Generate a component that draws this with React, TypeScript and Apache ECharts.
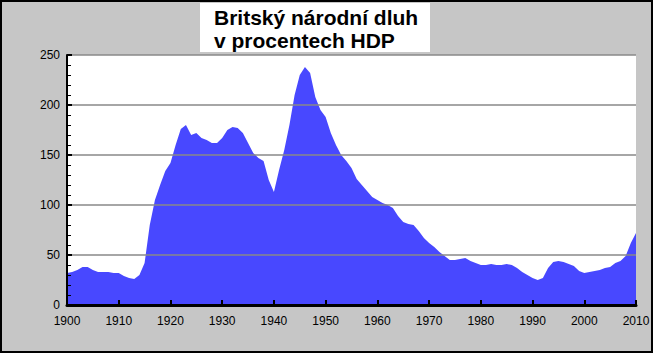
import React, { useEffect, useRef } from "react";
import * as echarts from "echarts";

const titleLines = ["Britský národní dluh", "v procentech HDP"];
const startYear = 1900;
const debtValues = [
  32, 33, 35, 38, 38, 35, 33, 33, 33, 32, // 1900-1909
  32, 29, 27, 26, 30, 42, 80, 105, 120, 134, // 1910-1919
  142, 160, 176, 180, 170, 172, 167, 165, 162, 162, // 1920-1929
  167, 175, 178, 177, 172, 162, 152, 147, 144, 125, // 1930-1939
  113, 135, 155, 180, 210, 230, 238, 232, 208, 195, // 1940-1949
  188, 172, 160, 150, 144, 137, 126, 120, 114, 108, // 1950-1959
  105, 102, 100, 97, 89, 83, 81, 80, 74, 67, // 1960-1969
  62, 58, 53, 49, 45, 45, 46, 47, 44, 42, // 1970-1979
  40, 40, 41, 40, 40, 41, 40, 37, 33, 30, // 1980-1989
  27, 25, 27, 37, 43, 44, 43, 41, 39, 34, // 1990-1999
  32, 33, 34, 35, 37, 38, 42, 44, 49, 62, // 2000-2009
  72, // 2010
];
const yTicks = [0, 50, 100, 150, 200, 250];
const xTicks = [1900, 1910, 1920, 1930, 1940, 1950, 1960, 1970, 1980, 1990, 2000, 2010];

export default function App() {
  const ref = useRef<HTMLDivElement>(null);
  useEffect(() => {
    document.body.style.margin = "0";
    const chart = echarts.init(ref.current!, null, { renderer: "svg" });
    const data = debtValues.map((v, i) => [startYear + i, v]);
    chart.setOption({
      animation: false,
      backgroundColor: "#c6c6c6",
      grid: { left: 67, right: 17, top: 55, bottom: 48, show: true, backgroundColor: "#fff", borderWidth: 0 },
      xAxis: {
        type: "value",
        min: xTicks[0],
        max: xTicks[xTicks.length - 1],
        interval: 10,
        axisLine: { show: true, lineStyle: { color: "#000", width: 3 } },
        axisTick: { show: true, inside: true, length: 5, lineStyle: { color: "#000", width: 2 } },
        axisLabel: {
          color: "#000",
          fontFamily: "Liberation Sans, Arial, sans-serif",
          fontSize: 12,
          margin: 10,
          showMaxLabel: true,
          showMinLabel: true,
          formatter: (v: number) => String(v),
        },
        splitLine: { show: false },
        z: 5,
      },
      yAxis: {
        type: "value",
        min: yTicks[0],
        max: yTicks[yTicks.length - 1],
        interval: 50,
        axisLine: { show: true, lineStyle: { color: "#000", width: 2 } },
        axisTick: { show: true, inside: true, length: 5, lineStyle: { color: "#000", width: 2 } },
        minorTick: { show: true, splitNumber: 5, length: 4, lineStyle: { color: "#000", width: 1 } },
        axisLabel: { color: "#000", fontFamily: "Liberation Sans, Arial, sans-serif", fontSize: 12, margin: 7 },
        splitLine: { show: true, lineStyle: { color: "#888", width: 1.5 } },
        z: 5,
      },
      series: [
        {
          type: "line",
          data,
          symbol: "none",
          lineStyle: { width: 0 },
          areaStyle: { color: "#4848ff", opacity: 1 },
          z: 1,
        },
      ],
      graphic: [
        {
          type: "rect",
          shape: { x: 1, y: 1, width: 651, height: 351 },
          style: { fill: "none", stroke: "#000", lineWidth: 2 },
          silent: true,
        },
        {
          type: "rect",
          shape: { x: 200, y: 3, width: 230, height: 49 },
          style: { fill: "#fff" },
          silent: true,
        },
        {
          type: "text",
          x: 214,
          y: 17,
          style: {
            text: titleLines[0],
            fill: "#000",
            font: "bold 21px 'Liberation Sans', Arial, sans-serif",
            textVerticalAlign: "middle",
          },
          silent: true,
        },
        {
          type: "text",
          x: 214,
          y: 40,
          style: {
            text: titleLines[1],
            fill: "#000",
            font: "bold 21px 'Liberation Sans', Arial, sans-serif",
            textVerticalAlign: "middle",
          },
          silent: true,
        },
      ],
    });
    return () => chart.dispose();
  }, []);
  return <div ref={ref} style={{ width: 653, height: 353 }} />;
}
